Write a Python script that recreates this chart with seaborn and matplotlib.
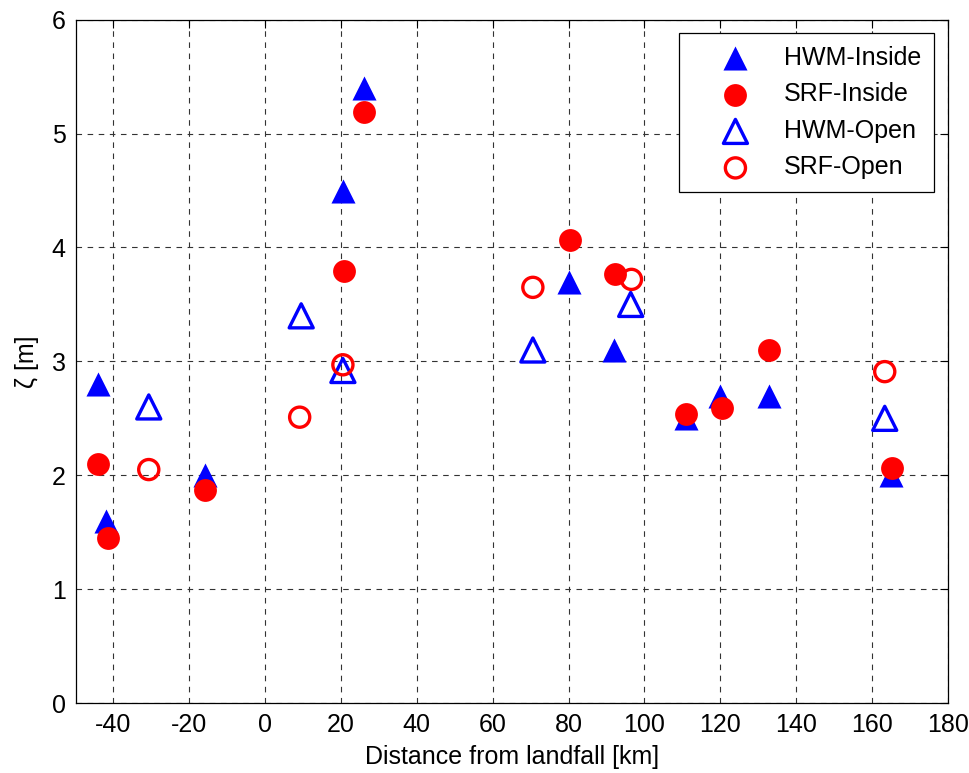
import matplotlib
matplotlib.use('Agg')
import matplotlib.pyplot as plt
import seaborn as sns

# values
hwm_in_x = [-44, -42, -16, 20.5, 26, 80, 92, 111, 120, 133, 165]
hwm_in_y = [2.8, 1.6, 2.0, 4.5, 5.4, 3.7, 3.1, 2.5, 2.7, 2.7, 2.0]

srf_in_x = [-44, -41.5, -16, 20.8, 26, 80.3, 92.3, 111, 120.4, 133, 165.2]
srf_in_y = [2.1, 1.45, 1.87, 3.79, 5.19, 4.07, 3.77, 2.54, 2.59, 3.1, 2.06]

hwm_open_x = [-30.7, 9.5, 20.5, 70.6, 96.4, 163.4]
hwm_open_y = [2.6, 3.4, 2.92, 3.1, 3.5, 2.5]

srf_open_x = [-30.7, 9.1, 20.5, 70.6, 96.6, 163.4]
srf_open_y = [2.05, 2.51, 2.97, 3.65, 3.72, 2.91]

sns.set_theme(style='white')
plt.rcParams['font.family'] = ['Liberation Sans', 'DejaVu Sans']
plt.rcParams['axes.unicode_minus'] = False
plt.rcParams['text.color'] = 'black'
plt.rcParams['axes.labelcolor'] = 'black'
plt.rcParams['xtick.direction'] = 'in'
plt.rcParams['ytick.direction'] = 'in'

fig = plt.figure(figsize=(9.69, 7.73), dpi=100)
ax = fig.add_axes([0.078, 0.0905, 0.900, 0.884])

sns.scatterplot(x=hwm_in_x, y=hwm_in_y, marker='^', s=300, color='#0000ff',
                edgecolor='#0000ff', linewidth=0, label='HWM-Inside', ax=ax, zorder=3)
sns.scatterplot(x=srf_in_x, y=srf_in_y, marker='o', s=270, color='#ff0000',
                edgecolor='#ff0000', linewidth=0, label='SRF-Inside', ax=ax, zorder=4)
sns.scatterplot(x=hwm_open_x, y=hwm_open_y, marker='^', s=300, facecolors='none',
                edgecolor='#0000ff', linewidth=2.4, label='HWM-Open', ax=ax, zorder=3)
sns.scatterplot(x=srf_open_x, y=srf_open_y, marker='o', s=210, facecolors='none',
                edgecolor='#ff0000', linewidth=2.4, label='SRF-Open', ax=ax, zorder=4)

ax.set_xlim(-50, 180)
ax.set_ylim(0, 6)
ax.set_xticks(range(-40, 181, 20))
ax.set_yticks(range(0, 7))

ax.grid(True, color='0.2', linestyle=(0, (5, 5)), linewidth=0.8)
ax.set_axisbelow(True)
for sp in ax.spines.values():
    sp.set_visible(True)
    sp.set_color('black')
    sp.set_linewidth(0.9)

ax.tick_params(axis='both', which='major', labelsize=18, length=6, width=0.8,
               top=True, right=True, color='black', labelcolor='black', pad=7)

ax.set_xlabel('Distance from landfall [km]', fontsize=18, labelpad=6)
ax.set_ylabel('ζ [m]', fontsize=18, labelpad=9)

leg = ax.legend(loc='upper right', fontsize=18, frameon=True, fancybox=False,
                edgecolor='black', framealpha=1, borderpad=0.5, labelspacing=0.5,
                handletextpad=0.2, handlelength=3.5, borderaxespad=0.55, markerscale=1.0)
leg.get_frame().set_linewidth(0.9)

fig.savefig('out.png', dpi=100)
